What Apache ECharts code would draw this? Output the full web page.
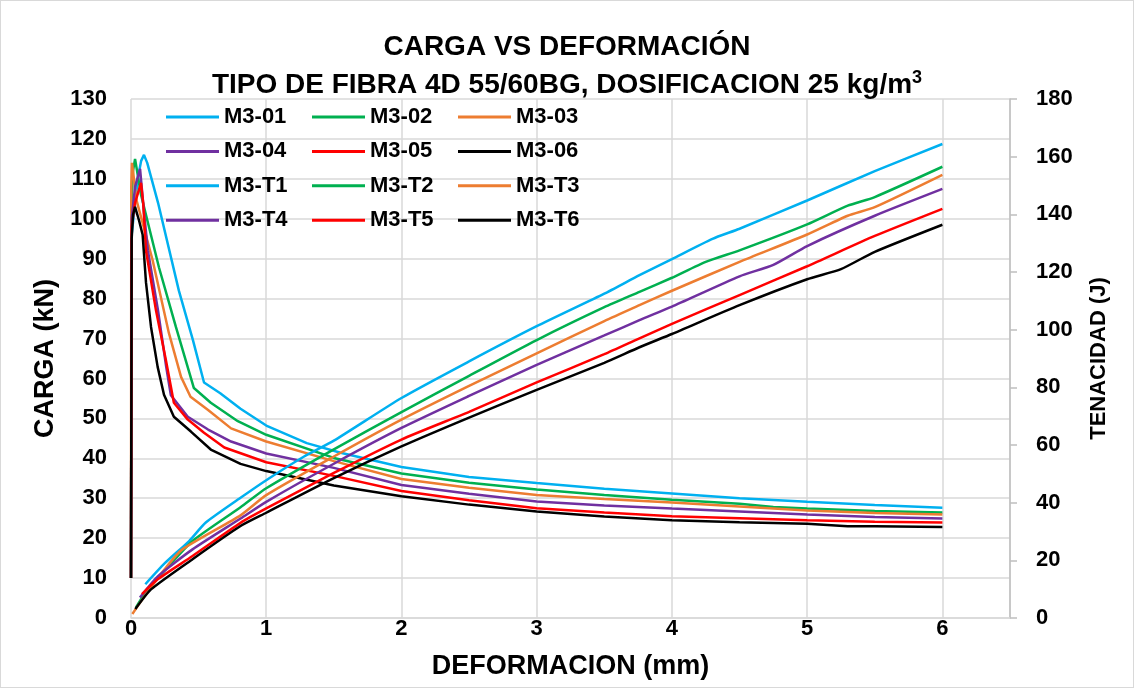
<!DOCTYPE html>
<html>
<head>
<meta charset="utf-8">
<script src="https://cdn.jsdelivr.net/npm/echarts@6/dist/echarts.min.js"></script>
<style>
	html, body { margin: 0; padding: 0; background: #fff; }
	#echarts { width: 1134px; height: 688px; box-sizing: border-box; border: 1px solid #d9d9d9; }
</style>
</head>
<body>
<div id="echarts"></div>
<script>
let myChart;
const font = "Liberation Sans";

// tick labels / axis ranges
const xTicks = [0, 1, 2, 3, 4, 5, 6];
const cargaMax = 130;
const tenacidadMax = 180;

const names = ["M3-01", "M3-02", "M3-03", "M3-04", "M3-05", "M3-06",
	"M3-T1", "M3-T2", "M3-T3", "M3-T4", "M3-T5", "M3-T6"];
const colors = ["#00B0F0", "#00B050", "#ED7D31", "#7030A0", "#FF0000", "#000000"];

// carga (kN) vs deformacion (mm)
const m301 = [[0, 10], [0.005, 96], [0.05, 110], [0.075, 114.5], [0.096, 116], [0.12, 114], [0.148, 110.5], [0.2, 104], [0.354, 82], [0.458, 69.6], [0.54, 59], [0.66, 56.3], [0.81, 52.4], [1, 48.2], [1.3, 43.8], [1.55, 41.4], [2, 37.8], [2.5, 35.3], [3, 33.8], [3.5, 32.4], [4, 31.2], [4.5, 30], [5, 29.1], [5.5, 28.3], [6, 27.6]];
const m302 = [[0, 10], [0.005, 105], [0.015, 112], [0.03, 115], [0.074, 106], [0.207, 87.8], [0.332, 72.9], [0.465, 57.6], [0.59, 53.9], [0.79, 49.3], [1, 45.9], [1.5, 40.1], [2, 36.2], [2.5, 33.9], [3, 32.2], [3.5, 30.8], [4, 29.6], [4.5, 28.6], [4.75, 27.8], [5, 27.4], [5.5, 26.8], [6, 26.4]];
const m303 = [[0, 10], [0.002, 108], [0.007, 114], [0.042, 104.5], [0.16, 89.6], [0.28, 71.4], [0.37, 60.4], [0.44, 55.4], [0.57, 52.1], [0.74, 47.5], [1, 44.2], [1.5, 39.3], [2, 34.8], [2.5, 32.6], [3, 30.8], [3.5, 29.8], [4, 28.9], [4.5, 27.9], [5, 26.9], [5.5, 26.3], [6, 25.9]];
const m304 = [[0, 10], [0.005, 100], [0.03, 108], [0.067, 112.5], [0.095, 102], [0.125, 92], [0.2, 77], [0.26, 63], [0.295, 55.8], [0.42, 50.4], [0.57, 47.2], [0.74, 44.2], [1, 41.2], [1.5, 37.6], [2, 33.3], [2.5, 31.1], [3, 29.2], [3.5, 28.2], [4, 27.4], [4.5, 26.7], [5, 25.9], [5.5, 25.3], [6, 24.9]];
const m305 = [[0, 10], [0.005, 98], [0.03, 104], [0.074, 109], [0.09, 104], [0.111, 92], [0.185, 77], [0.258, 64.6], [0.295, 57.9], [0.317, 53.9], [0.42, 49.7], [0.54, 46.4], [0.69, 42.7], [1, 39], [1.5, 35.6], [2, 31.8], [2.5, 29.5], [3, 27.5], [3.5, 26.4], [4, 25.5], [4.5, 25], [5, 24.5], [5.5, 24.1], [6, 23.9]];
const m306 = [[0, 10], [0.005, 95], [0.015, 101], [0.03, 103], [0.06, 99.5], [0.086, 96], [0.111, 84], [0.148, 72.9], [0.197, 62.9], [0.244, 55.9], [0.317, 50.4], [0.443, 46.7], [0.59, 42.2], [0.81, 38.6], [1, 36.8], [1.5, 33.2], [2, 30.5], [2.5, 28.4], [3, 26.7], [3.5, 25.4], [4, 24.5], [4.5, 24], [5, 23.6], [5.3, 23], [5.5, 23], [6, 22.8]];

// tenacidad (J) vs deformacion (mm)
const mt1 = [[0.106, 11.7], [0.25, 19], [0.43, 26.7], [0.553, 33.1], [0.81, 41.7], [1, 47.8], [1.28, 56], [1.5, 61.5], [2, 76.3], [2.5, 89], [3, 101.2], [3.5, 112.5], [3.76, 118.9], [4, 124.5], [4.3, 131.5], [4.5, 135], [5, 144.8], [5.5, 155], [6, 164.4]];
const mt2 = [[0.037, 3.7], [0.11, 9], [0.26, 17], [0.455, 26.7], [0.81, 38.4], [1, 45], [1.5, 58.5], [2, 71.4], [2.5, 84], [3, 96.4], [3.5, 107.8], [3.76, 113.1], [4, 118], [4.25, 123.5], [4.5, 127.5], [5, 136.5], [5.3, 143], [5.5, 146], [6, 156.5]];
const mt3 = [[0.01, 1.4], [0.1, 7.5], [0.25, 17], [0.38, 23.8], [0.81, 35.6], [1, 42.6], [1.5, 56], [2, 68.8], [2.5, 80.5], [3, 91.8], [3.5, 103], [3.76, 108.5], [4, 113.5], [4.5, 123.5], [5, 133], [5.3, 139.5], [5.5, 142.5], [6, 153.7]];
const mt4 = [[0.066, 7.1], [0.2, 14.5], [0.455, 23.8], [0.81, 34.5], [1, 40.3], [1.5, 53.5], [2, 65.9], [2.5, 77], [3, 87.8], [3.5, 98], [3.76, 103.3], [4, 108], [4.5, 118.5], [4.75, 122.5], [5, 129], [5.5, 139.5], [6, 148.8]];
const mt5 = [[0.081, 8.3], [0.2, 13.5], [0.455, 21.5], [0.81, 33], [1, 38], [1.5, 50.3], [2, 61.9], [2.5, 71.5], [3, 81.7], [3.5, 91.5], [3.76, 97], [4, 102], [4.5, 112], [5, 122], [5.5, 132.5], [6, 141.9]];
const mt6 = [[0.032, 3.1], [0.15, 10], [0.455, 20.4], [0.81, 31.9], [1, 36.5], [1.5, 48.5], [2, 59.5], [2.5, 69.5], [3, 79.1], [3.5, 88.5], [3.76, 93.9], [4, 98.5], [4.5, 108.5], [5, 117.5], [5.25, 121], [5.5, 127], [6, 136.4]];

const allData = [m301, m302, m303, m304, m305, m306, mt1, mt2, mt3, mt4, mt5, mt6];

function buildSeries() {
	return allData.map((d, i) => {
		return {
			name: names[i],
			type: "line",
			yAxisIndex: i < 6 ? 0 : 1,
			data: d,
			symbol: "none",
			// las curvas de carga van sin suavizar (tramo vertical en x=0)
			smooth: i < 6 ? false : 0.2,
			lineStyle: { width: 2.5, color: colors[i % 6] },
			itemStyle: { color: colors[i % 6] },
		};
	});
}

function buildLegend(col, left) {
	return {
		orient: "vertical",
		left: left,
		top: 105,
		icon: "rect",
		itemWidth: 53,
		itemHeight: 3,
		itemGap: 12.4,
		padding: 0,
		data: [names[col], names[col + 3], names[col + 6], names[col + 9]],
		textStyle: { fontFamily: font, fontSize: 22, fontWeight: "bold", color: "#000", lineHeight: 22 },
	};
}

function getOptions() {
	const labelStyle = { fontFamily: font, fontSize: 22, fontWeight: "bold", color: "#000" };
	const nameStyle = { fontFamily: font, fontSize: 27, fontWeight: "bold", color: "#000" };
	return {
		animation: false,
		title: [
			{
				text: "CARGA VS DEFORMACIÓN",
				left: "center",
				top: 31,
				padding: 0,
				textStyle: { fontFamily: font, fontSize: 28, fontWeight: "bold", color: "#000", lineHeight: 30 },
			},
			{
				text: "{a|TIPO DE FIBRA 4D 55/60BG, DOSIFICACION 25 kg/m}{s|3}",
				left: "center",
				top: 68,
				padding: 0,
				textStyle: {
					rich: {
						a: { fontFamily: font, fontSize: 28, fontWeight: "bold", color: "#000", lineHeight: 30, verticalAlign: "bottom" },
						s: { fontFamily: font, fontSize: 18, fontWeight: "bold", color: "#000", lineHeight: 18, verticalAlign: "top" },
					},
				},
			},
		],
		legend: [buildLegend(0, 165), buildLegend(1, 311), buildLegend(2, 457)],
		grid: { left: 130, right: 123, top: 98, bottom: 69 },
		xAxis: {
			type: "value",
			min: 0,
			max: 6.5,
			interval: 1,
			name: "DEFORMACION (mm)",
			nameLocation: "middle",
			nameGap: 35,
			nameTextStyle: nameStyle,
			axisLine: { lineStyle: { color: "#d9d9d9", width: 1.5 } },
			axisTick: { show: false },
			axisLabel: Object.assign({
				margin: 0,
				formatter: v => (xTicks.indexOf(v) >= 0 ? String(v) : ""),
			}, labelStyle),
			splitLine: { lineStyle: { color: "#d9d9d9", width: 1.5 } },
		},
		yAxis: [
			{
				type: "value",
				min: 0,
				max: cargaMax,
				interval: 10,
				name: "CARGA (kN)",
				nameLocation: "middle",
				nameGap: 72,
				nameTextStyle: nameStyle,
				axisLine: { show: false },
				axisTick: { show: false },
				axisLabel: Object.assign({ margin: 24 }, labelStyle),
				splitLine: { lineStyle: { color: "#d9d9d9", width: 1.5 } },
			},
			{
				type: "value",
				position: "right",
				min: 0,
				max: tenacidadMax,
				interval: 20,
				name: "TENACIDAD (J)",
				nameLocation: "middle",
				nameRotate: 90,
				nameGap: 78,
				nameTextStyle: { fontFamily: font, fontSize: 22, fontWeight: "bold", color: "#000" },
				axisLine: { show: true, lineStyle: { color: "#bfbfbf", width: 1.5 } },
				axisTick: { show: true, length: 7, lineStyle: { color: "#bfbfbf", width: 1.5 } },
				axisLabel: Object.assign({ margin: 26 }, labelStyle),
				splitLine: { show: false },
			},
		],
		series: buildSeries(),
	};
}

!(function () {
	myChart = echarts.init(document.getElementById("echarts"));
	myChart.setOption(getOptions());
})();

window.onresize = function () {
	myChart.resize();
};
</script>
</body>
</html>
